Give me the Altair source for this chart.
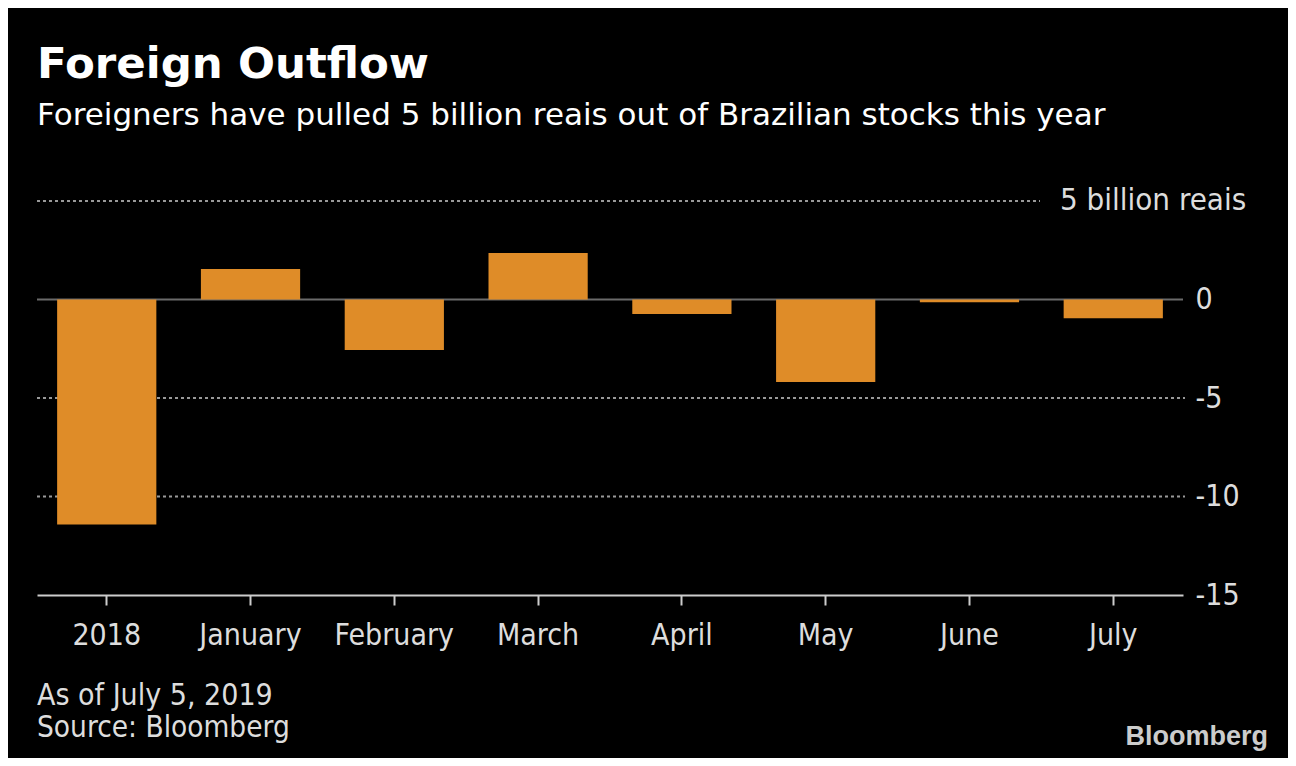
import altair as alt
import pandas as pd

categories = ["2018", "January", "February", "March", "April", "May", "June", "July"]
values = [-11.42, 1.55, -2.56, 2.36, -0.74, -4.19, -0.14, -0.95]
y_ticks = [0, -5, -10, -15]
dotted_grid = [-5, -10]
top_grid = [5]
zero_line = [0]

title_text = "Foreign Outflow"
subtitle_text = "Foreigners have pulled 5 billion reais out of Brazilian stocks this year"
unit_text = "5 billion reais"
note_text = "As of July 5, 2019"
source_text = "Source: Bloomberg"
logo_text = "Bloomberg"

W, H = 1146, 394
FONT = "DejaVu Sans Condensed"
WIDE = "DejaVu Sans"

yscale = alt.Scale(domain=[-15, 5], nice=False, zero=False)
yaxis = alt.Axis(
    orient="right", values=y_ticks, tickSize=0, domain=False, grid=False,
    labelPadding=12, labelAlign="left", labelBaseline="middle",
    labelFontSize=30, labelColor="#dddddd", labelFont=FONT, title=None,
    labelExpr="datum.value == 0 ? ' 0' : '' + datum.value",
)

bars_df = pd.DataFrame({"cat": categories, "value": values})

def Y(field="value"):
    return alt.Y(f"{field}:Q", scale=yscale, axis=yaxis)

zero = alt.Chart(pd.DataFrame({"value": zero_line})).mark_rule(
    color="#6a6a6a", strokeWidth=2
).encode(y=Y(), x=alt.value(0), x2=alt.value(W))

grid = alt.Chart(pd.DataFrame({"value": dotted_grid})).mark_rule(
    color="#999999", strokeWidth=2, strokeDash=[3, 3]
).encode(y=Y(), x=alt.value(0), x2=alt.value(W + 2))

grid_top = alt.Chart(pd.DataFrame({"value": top_grid})).mark_rule(
    color="#999999", strokeWidth=2, strokeDash=[3, 3]
).encode(y=Y(), x=alt.value(0), x2=alt.value(1003))

bars = alt.Chart(bars_df).mark_bar(color="#DF8C28").encode(
    x=alt.X(
        "cat:N", sort=categories,
        scale=alt.Scale(paddingInner=0.31, paddingOuter=0.14),
        axis=alt.Axis(
            orient="bottom", title=None, labelAngle=0, grid=False,
            domainColor="#cccccc", domainWidth=2, tickColor="#cccccc",
            tickWidth=2, tickSize=10, labelPadding=15, labelFontSize=30,
            labelColor="#dddddd", labelFont=FONT,
        ),
    ),
    y=Y(),
)

unit = alt.Chart(pd.DataFrame({"value": top_grid, "t": [unit_text]})).mark_text(
    align="left", baseline="middle", fontSize=31, font=FONT, color="#dddddd"
).encode(y=Y(), x=alt.value(1023), text="t:N")

def label(txt, x, y, size, color, bold=False, align="left", font=FONT):
    return alt.Chart(pd.DataFrame({"t": [txt]})).mark_text(
        align=align, baseline="alphabetic", fontSize=size, font=font,
        color=color, fontWeight="bold" if bold else "normal",
    ).encode(x=alt.value(x), y=alt.value(y), text="t:N")

title = label(title_text, 0, -123, 43.5, "#ffffff", bold=True, font=WIDE)
subtitle = label(subtitle_text, 0, -76, 31, "#ffffff", font=WIDE)
note = label(note_text, 0, 504, 30, "#dddddd")
source = label(source_text, 0, 536, 29.5, "#dddddd")
logo = label(logo_text, 1231, 544, 27, "#cccccc", bold=True, align="right",
             font="Liberation Sans")

chart = alt.layer(
    zero, grid, grid_top, bars, unit, title, subtitle, note, source, logo
).properties(
    width=W, height=H, background="#000000",
    padding={"left": 29, "top": 193, "right": 105, "bottom": 163},
    autosize=alt.AutoSizeParams(type="none"),
).configure_view(stroke=None)

chart.save("out.html", embed_options={"renderer": "svg", "actions": False})
